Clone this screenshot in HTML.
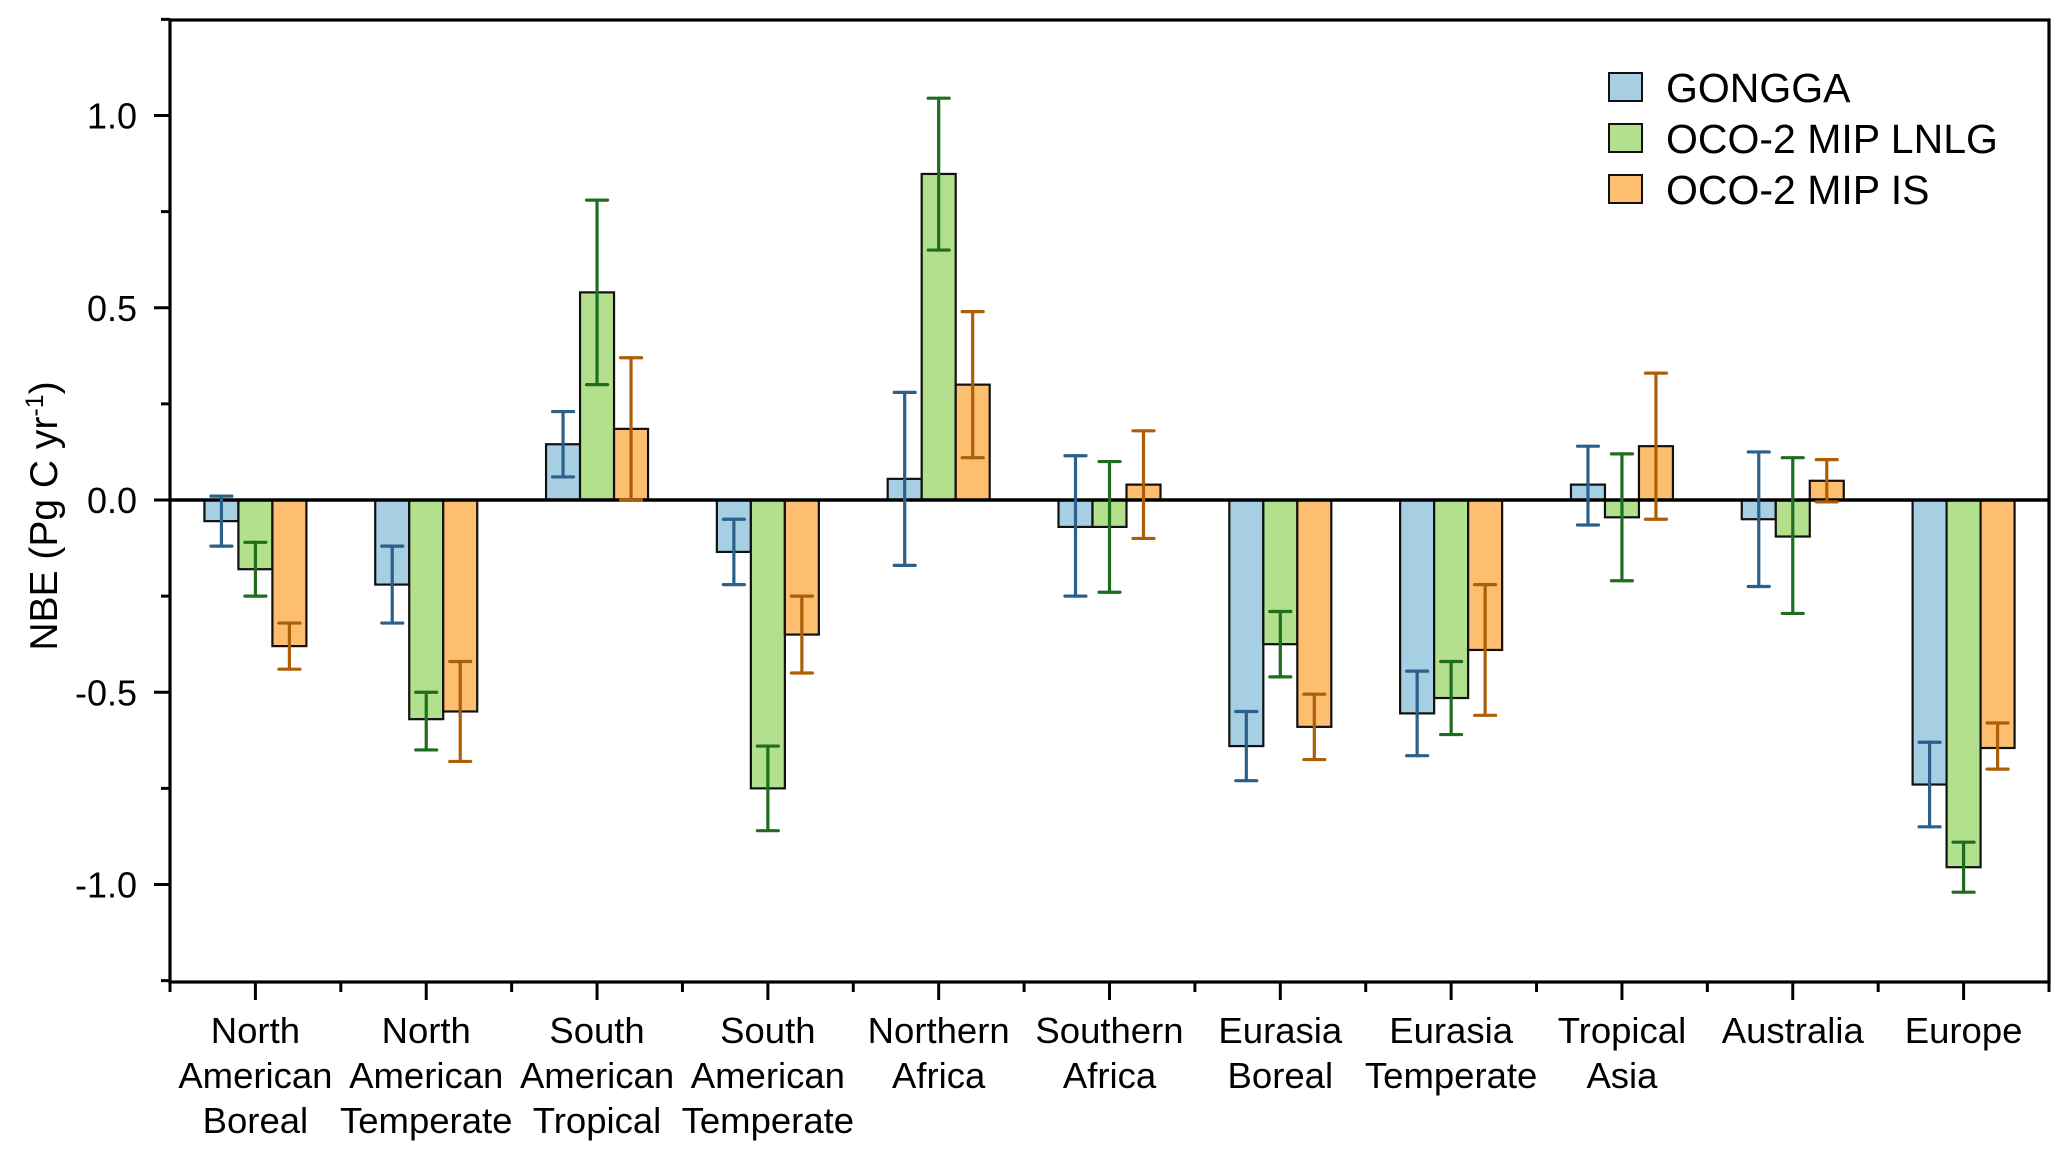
<!DOCTYPE html>
<html><head><meta charset="utf-8"><style>
html,body{margin:0;padding:0;background:#fff;}
svg{display:block;font-family:"Liberation Sans",Arial,sans-serif;}
</style></head><body>
<svg id="c" width="2067" height="1155" viewBox="0 0 2067 1155" xmlns="http://www.w3.org/2000/svg"></svg>
<script>
var L=170,R=2049,T=20,B=982,Z=500,U=384.5,CW=(R-L)/11,BW=34;
function y(v){return Z-v*U;}
var cats=[["North","American","Boreal"],["North","American","Temperate"],["South","American","Tropical"],["South","American","Temperate"],["Northern","Africa"],["Southern","Africa"],["Eurasia","Boreal"],["Eurasia","Temperate"],["Tropical","Asia"],["Australia"],["Europe"]];
var d=[
[[-0.055,-0.12,0.01],[-0.18,-0.25,-0.11],[-0.38,-0.44,-0.32]],
[[-0.22,-0.32,-0.12],[-0.57,-0.65,-0.50],[-0.55,-0.68,-0.42]],
[[0.145,0.06,0.23],[0.54,0.30,0.78],[0.185,0.0,0.37]],
[[-0.135,-0.22,-0.05],[-0.75,-0.86,-0.64],[-0.35,-0.45,-0.25]],
[[0.055,-0.17,0.28],[0.848,0.65,1.045],[0.30,0.11,0.49]],
[[-0.07,-0.25,0.115],[-0.07,-0.24,0.10],[0.04,-0.10,0.18]],
[[-0.64,-0.73,-0.55],[-0.375,-0.46,-0.29],[-0.59,-0.675,-0.505]],
[[-0.555,-0.665,-0.445],[-0.515,-0.61,-0.42],[-0.39,-0.56,-0.22]],
[[0.04,-0.065,0.14],[-0.045,-0.21,0.12],[0.14,-0.05,0.33]],
[[-0.05,-0.225,0.125],[-0.095,-0.295,0.11],[0.05,-0.005,0.105]],
[[-0.74,-0.85,-0.63],[-0.955,-1.02,-0.89],[-0.645,-0.70,-0.58]]];
var fill=["#a6cfe3","#b3e08c","#fdbf6f"],ec=["#2a6089","#1f6e1f","#ad5f08"];
var s="";
for(var i=0;i<11;i++){var cx=L+(i+0.5)*CW;
 for(var k=0;k<3;k++){var v=d[i][k][0],bx=cx+(k-1)*BW;
  var y0=Math.min(y(v),Z),h=Math.abs(y(v)-Z);
  s+='<rect x="'+(bx-BW/2)+'" y="'+y0+'" width="'+BW+'" height="'+h+'" fill="'+fill[k]+'" stroke="#111" stroke-width="2.2"/>';}
}
s+='<line x1="'+L+'" x2="'+R+'" y1="'+Z+'" y2="'+Z+'" stroke="#000" stroke-width="3.5"/>';
for(var i=0;i<11;i++){var cx=L+(i+0.5)*CW;
 for(var k=0;k<3;k++){var v=d[i][k],bx=cx+(k-1)*BW,a=y(v[1]),b=y(v[2]);
  s+='<g stroke="'+ec[k]+'" stroke-width="3.2" stroke-linecap="round"><line x1="'+bx+'" x2="'+bx+'" y1="'+a+'" y2="'+b+'"/><line x1="'+(bx-10.5)+'" x2="'+(bx+10.5)+'" y1="'+a+'" y2="'+a+'"/><line x1="'+(bx-10.5)+'" x2="'+(bx+10.5)+'" y1="'+b+'" y2="'+b+'"/></g>';}
 var ls=cats[i];
 for(var j=0;j<ls.length;j++)s+='<text x="'+cx+'" y="'+(1043+j*45)+'" font-size="36.5" text-anchor="middle">'+ls[j]+'</text>';
}
s+='<rect x="'+L+'" y="'+T+'" width="'+(R-L)+'" height="'+(B-T)+'" fill="none" stroke="#000" stroke-width="3.2"/>';
for(var t=-1.25;t<=1.2501;t+=0.25){var yy=y(t),maj=Math.abs(t*2-Math.round(t*2))<1e-6;
 s+='<line x1="'+(L-(maj?16:9))+'" x2="'+L+'" y1="'+yy+'" y2="'+yy+'" stroke="#000" stroke-width="3"/>';
 if(maj&&Math.abs(t)<1.2)s+='<text x="137" y="'+(yy+13)+'" font-size="36" text-anchor="end">'+(t<0?'-':'')+Math.abs(t).toFixed(1)+'</text>';}
for(var i=0;i<=22;i++){var xx=L+i*CW/2,maj=i%2==1;
 s+='<line x1="'+xx+'" x2="'+xx+'" y1="'+B+'" y2="'+(B+(maj?18:10))+'" stroke="#000" stroke-width="3"/>';}
s+='<text transform="translate(57,516) rotate(-90)" font-size="39" text-anchor="middle">NBE (Pg C yr<tspan dy="-14" font-size="25">-1</tspan><tspan dy="14">)</tspan></text>';
var lg=["GONGGA","OCO-2 MIP LNLG","OCO-2 MIP IS"];
for(var k=0;k<3;k++){var ly=73+k*51;
 s+='<rect x="1609" y="'+ly+'" width="33" height="28" fill="'+fill[k]+'" stroke="#111" stroke-width="2"/>';
 s+='<text x="1666" y="'+(ly+29)+'" font-size="41">'+lg[k]+'</text>';}
document.getElementById("c").innerHTML=s;
</script>
</body></html>
